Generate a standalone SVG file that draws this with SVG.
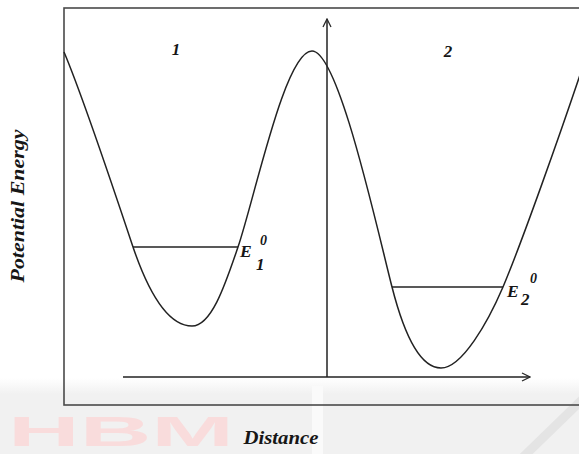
<svg xmlns="http://www.w3.org/2000/svg" width="579" height="454" viewBox="0 0 579 454">
  <defs>
    <linearGradient id="scan" x1="0" y1="378" x2="0" y2="394" gradientUnits="userSpaceOnUse">
      <stop offset="0" stop-color="#ffffff"/>
      <stop offset="1" stop-color="#f1f1f1"/>
    </linearGradient>
    <marker id="arr" viewBox="0 0 10 10" refX="9" refY="5" markerWidth="10" markerHeight="10" markerUnits="userSpaceOnUse" orient="auto">
      <path d="M1,1 L9,5 L1,9" fill="none" stroke="#2a2a2a" stroke-width="1.3"/>
    </marker>
    <style>
      .line { fill: none; stroke: #222222; stroke-width: 1.5; }
      .frame { fill: none; stroke: #4a4a4a; stroke-width: 1.6; }
      .lbl { font-family: "Liberation Serif", "Times New Roman", serif; font-weight: bold; font-style: italic; fill: #161616; }
    </style>
  </defs>

  <g id="background">
    <rect x="0" y="0" width="579" height="454" fill="#ffffff"/>
    <rect x="0" y="378" width="579" height="76" fill="url(#scan)"/>
    <rect x="312" y="386" width="11" height="68" fill="#fafafa"/>
    <text x="8" y="446" font-family="'Liberation Sans', Arial, sans-serif" font-weight="bold" font-size="43" fill="#f9dcdc" textLength="226" lengthAdjust="spacingAndGlyphs">HBM</text>
    <line x1="590" y1="392" x2="518" y2="462" stroke="#e4e4e4" stroke-width="9"/>
  </g>

  <g id="frame">
    <rect class="frame" x="64" y="8" width="540" height="397"/>
  </g>

  <g id="connectors">
    <line class="line" x1="327" y1="377" x2="327" y2="19" marker-end="url(#arr)"/>
    <line class="line" x1="123" y1="377" x2="530" y2="377" marker-end="url(#arr)"/>
  </g>

  <g id="potential-curve">
    <path class="line" d="M64,52 C78,85 114,190 133,247 C148,291 168,326 192,326 C212,326 226,282 238,247 C255,197 285,51 312,51 C338,51 375,220 392,287 C404,334 420,368 441,368 C462,368 488,322 503,287 C520,247 560,135 585,60"/>
  </g>

  <g id="level-1">
    <line class="line" x1="133" y1="247" x2="238" y2="247"/>
    <text class="lbl" x="240" y="257" font-size="17.5">E</text>
    <text class="lbl" x="260" y="245" font-size="14">0</text>
    <text class="lbl" x="256" y="270" font-size="17">1</text>
  </g>

  <g id="level-2">
    <line class="line" x1="392" y1="287" x2="503" y2="287"/>
    <text class="lbl" x="507" y="297" font-size="17.5">E</text>
    <text class="lbl" x="530" y="283" font-size="14">0</text>
    <text class="lbl" x="521" y="305" font-size="17">2</text>
  </g>

  <g id="well-labels">
    <text class="lbl" x="176" y="55" font-size="17" text-anchor="middle">1</text>
    <text class="lbl" x="448" y="57" font-size="17" text-anchor="middle">2</text>
  </g>

  <g id="axis-labels">
    <text class="lbl" x="281" y="444" font-size="19" text-anchor="middle" textLength="75" lengthAdjust="spacingAndGlyphs">Distance</text>
    <text class="lbl" transform="translate(24,206) rotate(-90)" x="0" y="0" font-size="19" text-anchor="middle" textLength="153" lengthAdjust="spacingAndGlyphs">Potential Energy</text>
  </g>
</svg>
